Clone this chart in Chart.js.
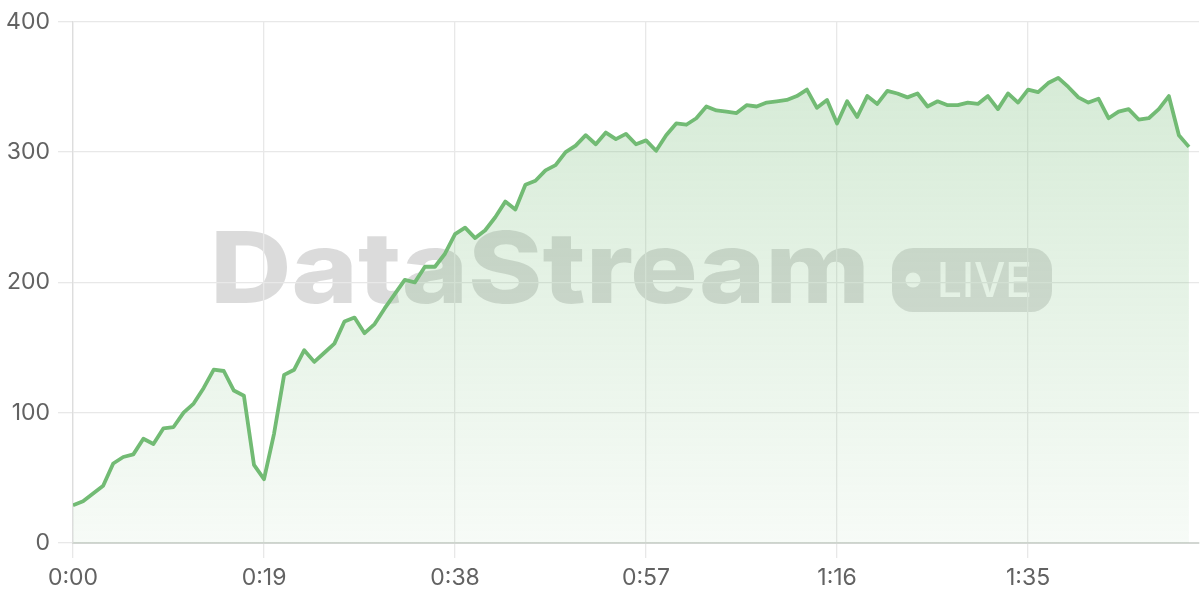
<!DOCTYPE html>
<html>
<head>
<meta charset="utf-8">
<script src="https://cdn.jsdelivr.net/npm/chart.js@4"></script>
<style>
  html, body { margin: 0; padding: 0; background: #ffffff; }
  #wrap { width: 1200px; height: 600px; position: relative; }
</style>
</head>
<body>
<div id="wrap"><canvas id="c" width="1200" height="600"></canvas></div>
<script>
// Values per second (index = seconds since 0:00)
const values = [
  29, 32, 38, 44, 61, 66, 68, 80, 76, 88, 89, 100, 107, 119, 133, 132, 117, 113, 60, 49,
  84, 129, 133, 148, 139, 146, 153, 170, 173, 161,
  168, 180, 191, 202, 200, 212, 212, 222, 237, 242,
  234, 240, 250, 262, 256, 275, 278, 286, 290, 300,
  305, 313, 306, 315, 310, 314, 306, 309, 301, 313,
  322, 321, 326, 335, 332, 331, 330, 336, 335, 338,
  339, 340, 343, 348, 334, 340, 322, 339, 327, 343,
  337, 347, 345, 342, 345, 335, 339, 336, 336, 338,
  337, 343, 333, 345, 338, 348, 346, 353, 357, 350,
  342, 338, 341, 326, 331, 333, 325, 326, 333, 343,
  313, 304
];
const xTickValues = [0, 19, 38, 57, 76, 95];
const yTickValues = [0, 100, 200, 300, 400];
const watermarkText = 'DataStream';
const badgeText = 'LIVE';

function fmtTime(s) {
  const m = Math.floor(s / 60);
  const ss = s % 60;
  return m + ':' + (ss < 10 ? '0' : '') + ss;
}

const points = values.map((v, i) => ({ x: i, y: v }));

const watermarkPlugin = {
  id: 'watermark',
  beforeDraw(chart) {
    const ctx = chart.ctx;
    ctx.save();
    ctx.fillStyle = 'rgba(0,0,0,0.14)';
    ctx.font = '800 99px Inter';
    ctx.textBaseline = 'alphabetic';
    const w = ctx.measureText(watermarkText).width;
    const target = 660;
    ctx.translate(210, 303);
    ctx.scale(target / w, 1);
    ctx.fillText(watermarkText, 0, 0);
    ctx.restore();

    ctx.save();
    ctx.fillStyle = 'rgba(0,0,0,0.13)';
    ctx.beginPath();
    ctx.roundRect(892, 248, 160, 64, 21);
    ctx.fill();
    ctx.fillStyle = 'rgba(255,255,255,0.92)';
    ctx.beginPath();
    ctx.arc(913, 280, 7.5, 0, Math.PI * 2);
    ctx.fill();
    ctx.font = '500 48px Inter';
    ctx.textBaseline = 'alphabetic';
    const lw = ctx.measureText(badgeText).width;
    ctx.translate(937, 297);
    ctx.scale(95 / lw, 1);
    ctx.fillText(badgeText, 0, 0);
    ctx.restore();
  }
};

const ctx = document.getElementById('c').getContext('2d');
new Chart(ctx, {
  type: 'line',
  data: {
    datasets: [{
      data: points,
      borderColor: '#72bb74',
      borderWidth: 3.8,
      borderJoinStyle: 'round',
      tension: 0,
      pointRadius: 0,
      pointHoverRadius: 0,
      fill: 'origin',
      backgroundColor(context) {
        const chart = context.chart;
        const area = chart.chartArea;
        if (!area) return 'rgba(116,187,118,0.2)';
        const g = chart.ctx.createLinearGradient(0, area.top, 0, area.bottom);
        g.addColorStop(0, 'rgba(116,187,118,0.32)');
        g.addColorStop(1, 'rgba(116,187,118,0.06)');
        return g;
      }
    }]
  },
  options: {
    responsive: false,
    animation: false,
    events: [],
    layout: { padding: { top: 19, right: 1, left: 0, bottom: 0 } },
    plugins: { legend: { display: false }, tooltip: { enabled: false } },
    scales: {
      x: {
        type: 'linear',
        min: 0,
        max: 112,
        afterBuildTicks(axis) { axis.ticks = xTickValues.map(v => ({ value: v })); },
        afterFit(axis) { axis.height = 57; },
        ticks: {
          autoSkip: false,
          maxRotation: 0,
          padding: 6,
          color: '#626262',
          font: { family: 'Inter', size: 23 },
          callback: (v) => fmtTime(v)
        },
        grid: { color: '#e8e8e8', tickLength: 15, lineWidth: 1.3 },
        border: { color: '#d2d6d2', width: 2 }
      },
      y: {
        min: 0,
        max: 400,
        afterBuildTicks(axis) { axis.ticks = yTickValues.map(v => ({ value: v })); },
        afterFit(axis) { axis.width = 73; },
        ticks: {
          padding: 8,
          color: '#626262',
          font: { family: 'Inter', size: 23 }
        },
        grid: { color: '#e8e8e8', tickLength: 15, lineWidth: 1.3 },
        border: { color: '#dddddd', width: 1.3 }
      }
    }
  },
  plugins: [watermarkPlugin]
});
</script>
</body>
</html>
